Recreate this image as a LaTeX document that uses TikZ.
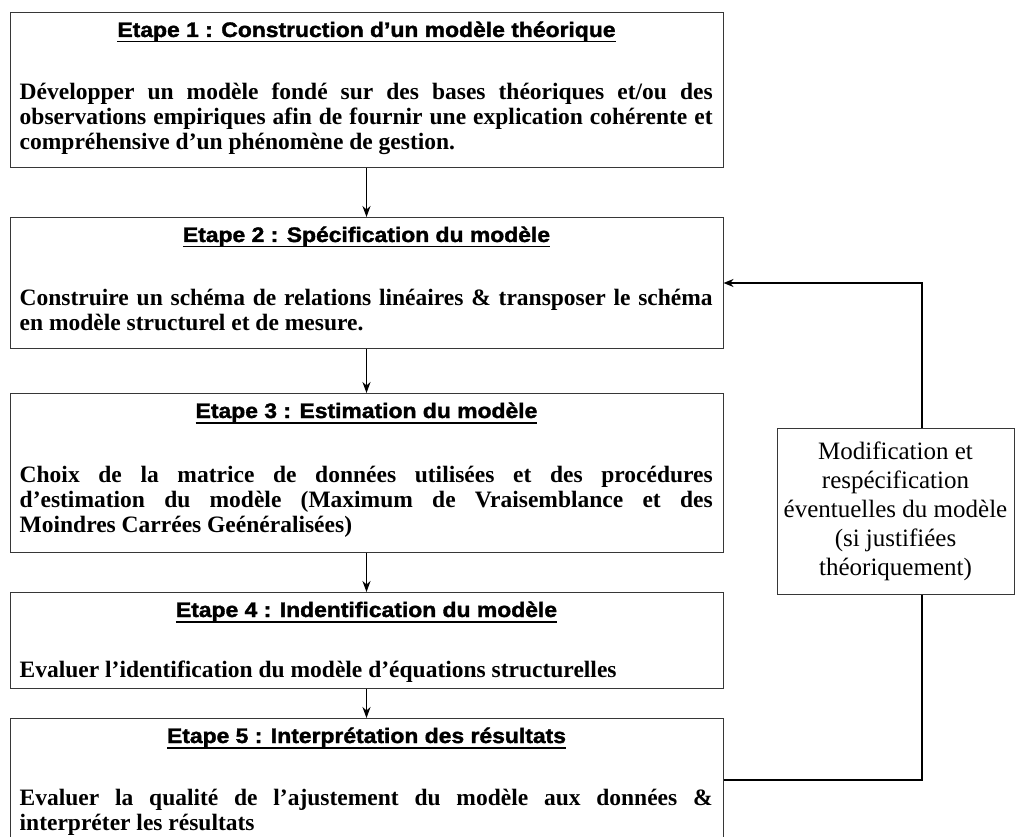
\documentclass[tikz,border=0pt]{standalone}
\usepackage{fontspec}
\setmainfont{Liberation Serif}
\newfontfamily\sansgras{Liberation Sans}[BoldFeatures={FakeBold=1.6}]
\usepackage{graphicx}
\usepackage{xcolor}
\definecolor{BoxLine}{RGB}{55,55,55}
\usetikzlibrary{arrows.meta}
\newcommand{\titrefont}{\sansgras\fontsize{21}{25}\selectfont\bfseries}
\newcommand{\corpsfont}{\fontsize{23.5}{25}\selectfont\bfseries\tolerance=9999\hyphenpenalty=10000}
\newcommand{\souligne}[1]{\scalebox{1.09}[1]{\setbox0\hbox{#1}\rlap{\rule[-5.5pt]{\wd0}{1.8pt}}\box0}}

\begin{document}
\begin{tikzpicture}[
    x=1pt, y=-1pt,
    boite/.style={
        draw=BoxLine, line width=1pt, minimum width=713pt,
        inner sep=0pt, anchor=north
    },
    titre/.style={
        font=\titrefont, anchor=base, inner sep=0pt
    },
    corps/.style={
        font=\corpsfont, text width=693pt, align=justify,
        anchor=north west, inner sep=0pt
    },
    fleche/.style={
        -{Stealth[length=11pt,width=8pt]}, line width=1.8pt
    },
    retour/.style={
        -{Stealth[length=10pt,width=8pt]}, line width=2pt
    },
    modif/.style={
        draw=BoxLine, line width=1pt, fill=white,
        minimum width=237pt, minimum height=166pt, align=center,
        font=\fontsize{25}{29}\selectfont
    }
]
\useasboundingbox (0,0) rectangle (1015,837);

% ====== ETAPES (cadres) ======
\node[boite, minimum height=155pt] (b1) at (366.5, 12) {};
\node[boite, minimum height=131pt] (b2) at (366.5,217) {};
\node[boite, minimum height=159pt] (b3) at (366.5,393) {};
\node[boite, minimum height=96pt]  (b4) at (366.5,592) {};
\node[boite, minimum height=122pt] (b5) at (366.5,718) {};

% ====== TITRES ======
\node[titre] (t1) at ([yshift=-25pt]b1.north) {\souligne{Etape 1 : Construction d’un modèle théorique}};
\node[titre] (t2) at ([yshift=-25pt]b2.north) {\souligne{Etape 2 : Spécification du modèle}};
\node[titre] (t3) at ([yshift=-25pt]b3.north) {\souligne{Etape 3 : Estimation du modèle}};
\node[titre] (t4) at ([yshift=-25pt]b4.north) {\souligne{Etape 4 : Indentification du modèle}};
\node[titre] (t5) at ([yshift=-25pt]b5.north) {\souligne{Etape 5 : Interprétation des résultats}};

% ====== TEXTES ======
\node[corps] (c1) at ([xshift=10pt,yshift=-69.5pt]b1.north west)
    {\strut Développer un modèle fondé sur des bases théoriques et/ou des\linebreak
     observations empiriques afin de fournir une explication cohérente et\linebreak
     compréhensive d’un phénomène de gestion.};
\node[corps] (c2) at ([xshift=10pt,yshift=-70.5pt]b2.north west)
    {\strut Construire un schéma de relations linéaires \& transposer le schéma\linebreak
     en modèle structurel et de mesure.};
\node[corps] (c3) at ([xshift=10pt,yshift=-72pt]b3.north west)
    {\strut Choix de la matrice de données utilisées et des procédures\linebreak
     d’estimation du modèle (Maximum de Vraisemblance et des\linebreak
     Moindres Carrées Geénéralisées)};
\node[corps] (c4) at ([xshift=10pt,yshift=-67.5pt]b4.north west)
    {\strut Evaluer l’identification du modèle d’équations structurelles};
\node[corps] (c5) at ([xshift=10pt,yshift=-69.5pt]b5.north west)
    {\strut Evaluer la qualité de l’ajustement du modèle aux données \&\linebreak
     interpréter les résultats};

% ====== ENCHAINEMENT ======
\foreach \a/\b in {b1/b2, b2/b3, b3/b4, b4/b5}
    \draw[fleche] (\a.south) -- (\b.north);

% ====== BOUCLE DE RETOUR ======
\coordinate (boucle) at (922,511);
\draw[retour] (b5.east) -| (boucle) |- (b2.east);
\node[modif] (m) at (895.5,511)
    {Modification et\\respécification\\éventuelles du modèle\\(si justifiées\\théoriquement)};

\end{tikzpicture}
\end{document}
